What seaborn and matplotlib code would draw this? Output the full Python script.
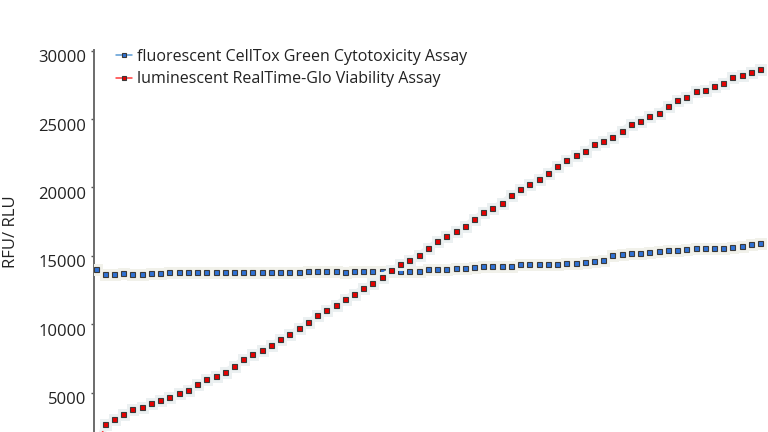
import numpy as np
import pandas as pd
import matplotlib
matplotlib.use("Agg")
import matplotlib.pyplot as plt
import matplotlib.patheffects as pe
from matplotlib.transforms import ScaledTranslation
import seaborn as sns

# ---- data ----
timepoints = list(range(73))
cytotox_rfu = [13980, 13664, 13613, 13737, 13664, 13664, 13737, 13737, 13759, 13759,
               13759, 13759, 13759, 13759, 13810, 13759, 13810, 13810, 13810, 13810,
               13810, 13759, 13810, 13868, 13868, 13854, 13854, 13810, 13854, 13854,
               13854, 13854, 13854, 13854, 13854, 13854, 13978, 14029, 14029, 14051,
               14102, 14146, 14219, 14219, 14248, 14248, 14343, 14343, 14343, 14394,
               14394, 14467, 14467, 14511, 14584, 14635, 15000, 15073, 15146, 15197,
               15241, 15314, 15365, 15387, 15438, 15511, 15511, 15511, 15562, 15635,
               15679, 15803, 15876]
viability_rlu = [800, 2663, 3028, 3393, 3736, 3882, 4218, 4415, 4612, 4904,
                 5167, 5561, 5926, 6189, 6481, 6919, 7386, 7773, 8065, 8430,
                 8868, 9211, 9671, 10094, 10598, 10963, 11372, 11839, 12204, 12613,
                 13007, 13445, 13905, 14343, 14686, 15022, 15533, 16022, 16438, 16774,
                 17117, 17679, 18139, 18482, 18818, 19380, 19818, 20205, 20570, 21008,
                 21497, 21986, 22300, 22614, 23103, 23373, 23665, 24125, 24636, 24855,
                 25220, 25439, 25899, 26388, 26556, 27023, 27118, 27388, 27578, 28045,
                 28162, 28410, 28629]
series_names = ["fluorescent CellTox Green Cytotoxicity Assay",
                "luminescent RealTime-Glo Viability Assay"]
y_ticks = [5000, 10000, 15000, 20000, 25000, 30000]

df = pd.DataFrame({
    "t": timepoints * 2,
    "value": cytotox_rfu + viability_rlu,
    "assay": [series_names[0]] * len(timepoints) + [series_names[1]] * len(timepoints),
})

sns.set_theme(style="white")
plt.rcParams["font.family"] = ["Open Sans", "DejaVu Sans"]

W, H = 768, 432
fig = plt.figure(figsize=(W / 100, H / 100), dpi=100)
ax = fig.add_axes([94 / W, 0, 674 / W, (432 - 50) / H])

line_colors = {series_names[0]: "#5b9bd5", series_names[1]: "#ff3b3b"}
marker_faces = {series_names[0]: "#2f72d6", series_names[1]: "#e60000"}

for name in series_names:
    sub = df[df["assay"] == name]
    sns.lineplot(data=sub, x="t", y="value", ax=ax, color=line_colors[name],
                 linewidth=1.1, marker="s", markersize=3.6,
                 markerfacecolor=marker_faces[name], markeredgecolor="#3a3a3a",
                 markeredgewidth=0.8, label=name, zorder=3)

halo = ["#f1f1ea", "#ebf0f1"]
for ln, hc in zip(ax.lines, halo):
    ln.set_path_effects([pe.Stroke(linewidth=5, foreground=hc), pe.Normal()])

ax.set_xlim(-0.22, 72.8)
ax.set_ylim(2112, 30050)
ax.set_xticks([])
ax.set_xlabel("")
ax.set_yticks(y_ticks)
ax.set_yticklabels([str(v) for v in y_ticks])
ax.tick_params(axis="y", which="both", left=True, length=2.5, width=1,
               color="#555555", pad=3, labelsize=12, labelcolor="#222222")
for lab in ax.get_yticklabels():
    lab.set_transform(lab.get_transform() + ScaledTranslation(0, -0.055, fig.dpi_scale_trans))

for s in ["top", "right", "bottom"]:
    ax.spines[s].set_visible(False)
ax.spines["left"].set_color("#6b6b6b")
ax.spines["left"].set_linewidth(1.4)

ax.set_ylabel("RFU/ RLU", fontsize=12, color="#222222")
ax.yaxis.set_label_coords(-0.112, 0.524)

leg = ax.legend(loc="upper left", bbox_to_anchor=(116 / W, 1 - 49 / H),
                bbox_transform=fig.transFigure, frameon=False, fontsize=11.5,
                handlelength=1.0, handletextpad=0.3, labelspacing=0.4,
                borderpad=0, borderaxespad=0)
for t in leg.get_texts():
    t.set_color("#222222")
for h in leg.get_lines():
    h.set_path_effects([])
    h.set_markersize(3.2)

fig.savefig("out.png", dpi=100)
